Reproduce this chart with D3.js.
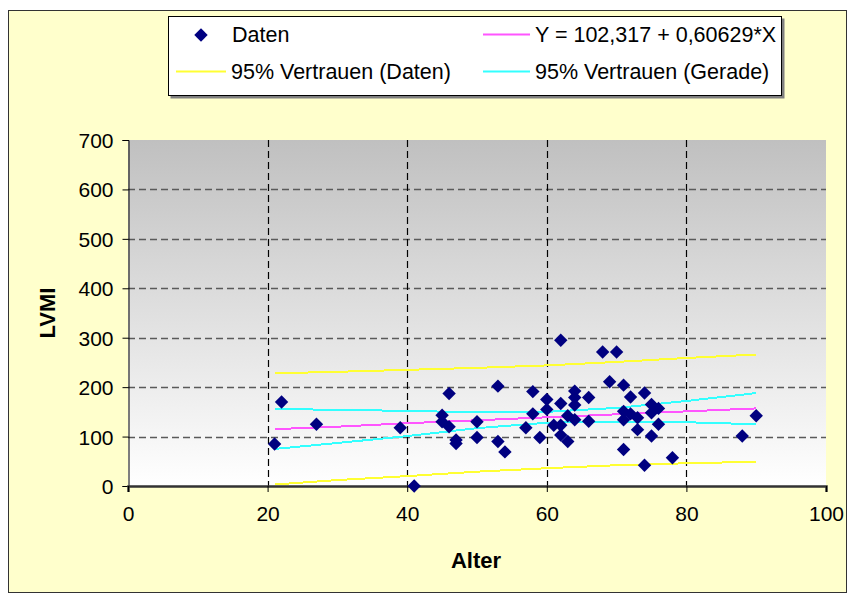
<!DOCTYPE html>
<html><head><meta charset="utf-8">
<script src="https://cdn.jsdelivr.net/npm/d3@7/dist/d3.min.js"></script>
<style>body{margin:0;background:#fff}svg text{font-family:"Liberation Sans",Arial,sans-serif}</style>
</head><body><svg id="c" width="853" height="596"></svg>
<script>
// Data
const ageX = [21,22,27,39,41,45,45,46,46,47,47,50,50,53,53,54,57,58,58,59,60,60,61,62,62,62,62,63,63,64,64,64,64,66,66,68,70,69,71,71,71,71,72,72,73,73,74,74,75,76,75,76,75,78,88,90];
const lvmiY = [85,170,125,118,0,143,130,187,120,93,86,130,98,202,90,69,118,191,146,98,175,155,123,295,167,123,103,142,90,192,179,164,134,179,131,271,271,211,204,151,134,74,180,146,138,114,188,42,165,157,148,125,101,57,101,142];
const bandX = [21,30,40,50,60,70,80,90];
const fitY = [115,120,127,133,139,145,151,157];
const predUpper = [228,231,235,239,244,251,259,266];
const predLower = [3,12,20,29,36,42,46,49];
const confUpper = [156,154,152,149,150,158,172,188];
const confLower = [75,87,101,117,128,130,129,125];
const xTicks = [0,20,40,60,80,100];
const yTicks = [0,100,200,300,400,500,600,700];
const legendLabels = ["Daten","Y = 102,317 + 0,60629*X","95% Vertrauen (Daten)","95% Vertrauen (Gerade)"];

const svg = d3.select("#c");
const L=128,R=826,T=140,B=486;
const x = d3.scaleLinear().domain([0,100]).range([L,R]);
const y = d3.scaleLinear().domain([0,700]).range([B,T]);

// chart background
svg.append("rect").attr("x",8.5).attr("y",10.5).attr("width",838).attr("height",582)
  .attr("fill","#ffffcc").attr("stroke","#333").attr("stroke-width",1);

// gradient plot area
const defs = svg.append("defs");
const g = defs.append("linearGradient").attr("id","pg").attr("x1",0).attr("y1",0).attr("x2",0).attr("y2",1);
g.append("stop").attr("offset","0%").attr("stop-color","#c0c0c0");
g.append("stop").attr("offset","100%").attr("stop-color","#ffffff");
svg.append("rect").attr("x",L).attr("y",T).attr("width",R-L).attr("height",B-T).attr("fill","url(#pg)");

// gridlines
svg.append("g").selectAll("line").data(yTicks.filter(d=>d>0&&d<700)).join("line")
  .attr("x1",L).attr("x2",R).attr("y1",d=>Math.round(y(d))+0.5).attr("y2",d=>Math.round(y(d))+0.5)
  .attr("stroke","#5a5a5a").attr("stroke-width",1.3).attr("stroke-dasharray","7,4");
svg.append("g").selectAll("line").data(xTicks.filter(d=>d>0&&d<100)).join("line")
  .attr("y1",T).attr("y2",B).attr("x1",d=>Math.round(x(d))+0.5).attr("x2",d=>Math.round(x(d))+0.5)
  .attr("stroke","#000").attr("stroke-width",1.2).attr("stroke-dasharray","7,4");

// axes
const ya = d3.axisLeft(y).tickValues(yTicks).tickSize(6).tickPadding(9);
const yg = svg.append("g").attr("transform",`translate(${L+0.5},0)`).call(ya);
yg.select(".domain").attr("stroke","#000");
yg.selectAll(".tick line").attr("stroke","#000");
yg.selectAll("text").attr("font-size",21).attr("fill","#000").attr("dy","0.36em");

const xa = d3.axisBottom(x).tickValues(xTicks).tickSize(6).tickPadding(14);
const xg = svg.append("g").attr("transform",`translate(0,${B})`).call(xa);
xg.select(".domain").attr("stroke","#333").attr("stroke-width",2.5);
xg.selectAll(".tick line").attr("stroke","#000");
xg.selectAll("text").attr("font-size",21).attr("fill","#000");

// lines
const line = d3.line().x((d,i)=>x(bandX[i])).y(d=>y(d));
const series = [[predUpper,"#ffff33"],[predLower,"#ffff33"],[confUpper,"#33ffff"],[confLower,"#33ffff"],[fitY,"#ff55ff"]];
series.forEach(([arr,col])=>{
  svg.append("path").attr("d",line(arr)).attr("fill","none").attr("stroke",col)
   .attr("stroke-width",2).attr("shape-rendering","crispEdges");
});

// points
const sym = d3.symbol().type(d3.symbolSquare).size(90);
svg.append("g").selectAll("path").data(ageX.map((a,i)=>[a,lvmiY[i]])).join("path")
  .attr("d",sym).attr("transform",d=>`translate(${x(d[0])},${y(d[1])}) rotate(45)`)
  .attr("fill","#000080");

// axis titles
svg.append("text").attr("x",476).attr("y",568).attr("text-anchor","middle")
  .attr("font-size",22).attr("font-weight","bold").text("Alter");
svg.append("text").attr("transform","translate(55,313) rotate(-90)").attr("text-anchor","middle")
  .attr("font-size",22).attr("font-weight","bold").text("LVMI");

// legend
svg.append("rect").attr("x",170.5).attr("y",18.5).attr("width",614).attr("height",80).attr("fill","#808080");
svg.append("rect").attr("x",168.5).attr("y",16.5).attr("width",613).attr("height",79).attr("fill","#fff").attr("stroke","#000");
const lg = svg.append("g");
lg.append("path").attr("d",sym).attr("transform","translate(201,35) rotate(45)").attr("fill","#000080");
lg.append("line").attr("x1",483).attr("x2",530).attr("y1",34.5).attr("y2",34.5).attr("stroke","#ff55ff").attr("stroke-width",2);
lg.append("line").attr("x1",176).attr("x2",226).attr("y1",71.5).attr("y2",71.5).attr("stroke","#ffff33").attr("stroke-width",2);
lg.append("line").attr("x1",483).attr("x2",530).attr("y1",71.5).attr("y2",71.5).attr("stroke","#33ffff").attr("stroke-width",2);
const lpos = [[232,34],[535,34],[231,71],[535,71]];
lg.selectAll("text").data(legendLabels).join("text")
  .attr("x",(d,i)=>lpos[i][0]).attr("y",(d,i)=>lpos[i][1]).attr("dy","0.36em")
  .attr("font-size",21.5).attr("fill","#000").text(d=>d);
</script></body></html>
